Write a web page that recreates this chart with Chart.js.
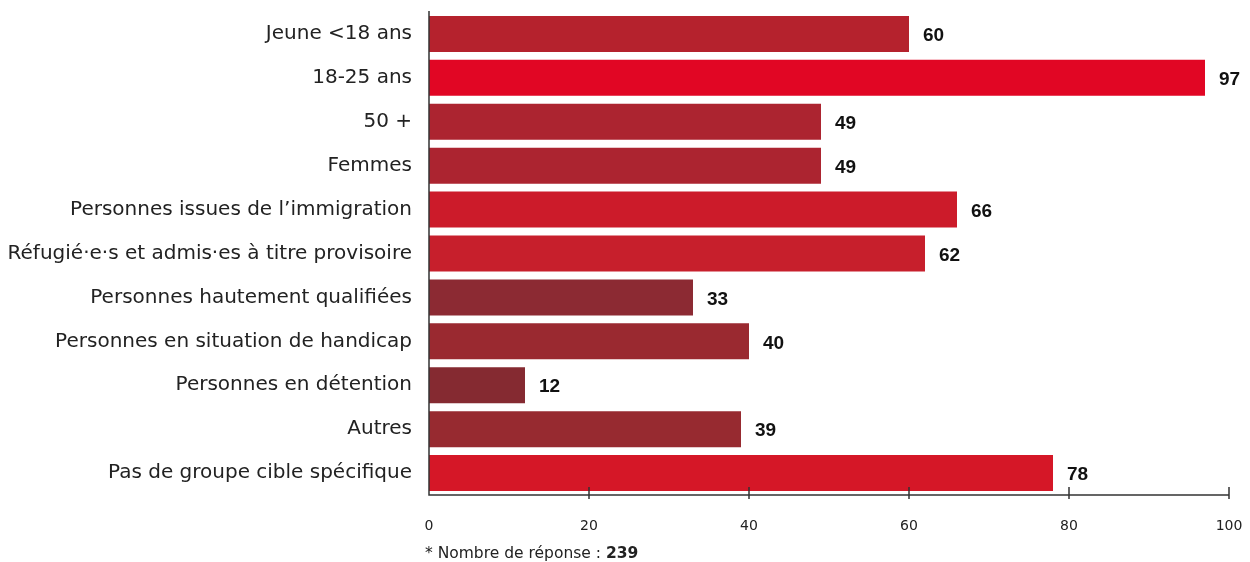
<!DOCTYPE html>
<html>
<head>
<meta charset="utf-8">
<script src="https://cdn.jsdelivr.net/npm/chart.js@4/dist/chart.umd.min.js"></script>
<style>
  html, body { margin: 0; padding: 0; background: #fff; }
  #wrap { position: relative; width: 1250px; height: 562px; }
  #note { position: absolute; left: 425px; top: 544px; font: 15.5px "DejaVu Sans", sans-serif; color: #222; }
</style>
</head>
<body>
<div id="wrap">
  <canvas id="chart" width="1250" height="562"></canvas>
  <div id="note">* Nombre de réponse : <b>239</b></div>
</div>
<script>
// données
const categories = [
  "Jeune <18 ans",
  "18-25 ans",
  "50 +",
  "Femmes",
  "Personnes issues de l’immigration",
  "Réfugié·e·s et admis·es à titre provisoire",
  "Personnes hautement qualifiées",
  "Personnes en situation de handicap",
  "Personnes en détention",
  "Autres",
  "Pas de groupe cible spécifique"
];
const values = [60, 97, 49, 49, 66, 62, 33, 40, 12, 39, 78];
const barColors = [
  "#b5222d", "#e10624", "#ac2430", "#ac2430", "#cc1b2a", "#c71f2c",
  "#8c2a33", "#9a2930", "#852a31", "#972a30", "#d51727"
];
const xTicks = [0, 20, 40, 60, 80, 100];

// valeurs en gras à droite des barres
const valueLabels = {
  id: "valueLabels",
  afterDatasetsDraw(chart) {
    const ctx = chart.ctx;
    const meta = chart.getDatasetMeta(0);
    ctx.save();
    ctx.font = "bold 19px 'Liberation Sans'";
    ctx.fillStyle = "#111";
    ctx.textBaseline = "middle";
    meta.data.forEach((bar, i) => {
      ctx.fillText(String(values[i]), bar.x + 14, bar.y + 2);
    });
    ctx.restore();
  }
};

// axes + petites graduations qui traversent l'axe x
const axisLines = {
  id: "axisLines",
  afterDatasetsDraw(chart) {
    const ctx = chart.ctx;
    const a = chart.chartArea;
    const x = chart.scales.x;
    ctx.save();
    ctx.strokeStyle = "#333";
    ctx.lineWidth = 1.5;
    ctx.beginPath();
    ctx.moveTo(a.left, a.top - 1);
    ctx.lineTo(a.left, a.bottom);
    ctx.lineTo(a.right, a.bottom);
    xTicks.forEach((v) => {
      if (v === 0) return;
      const px = x.getPixelForValue(v);
      ctx.moveTo(px, a.bottom - 8);
      ctx.lineTo(px, a.bottom + 4);
    });
    ctx.stroke();
    ctx.restore();
  }
};

new Chart(document.getElementById("chart"), {
  type: "bar",
  data: {
    labels: categories,
    datasets: [{
      data: values,
      backgroundColor: barColors,
      borderWidth: 0,
      categoryPercentage: 1,
      barPercentage: 0.82
    }]
  },
  options: {
    indexAxis: "y",
    responsive: false,
    animation: false,
    layout: { padding: { top: 12, right: 21, bottom: 29, left: 0 } },
    plugins: {
      legend: { display: false },
      tooltip: { enabled: false }
    },
    scales: {
      x: {
        min: 0,
        max: 100,
        afterBuildTicks: (s) => { s.ticks = xTicks.map((v) => ({ value: v })); },
        afterFit: (s) => { s.height = 38; s.paddingLeft = 0; s.paddingRight = 0; },
        grid: { display: false, drawTicks: false },
        border: { display: false },
        ticks: {
          padding: 23,
          color: "#222",
          font: { family: "DejaVu Sans", size: 14 }
        }
      },
      y: {
        afterFit: (s) => { s.width = 429; s.paddingTop = 0; s.paddingBottom = 0; },
        grid: { display: false, drawTicks: false },
        border: { display: false },
        ticks: {
          padding: 17,
          color: "#222",
          font: { family: "DejaVu Sans", size: 20 }
        }
      }
    }
  },
  plugins: [valueLabels, axisLines]
});
</script>
</body>
</html>
